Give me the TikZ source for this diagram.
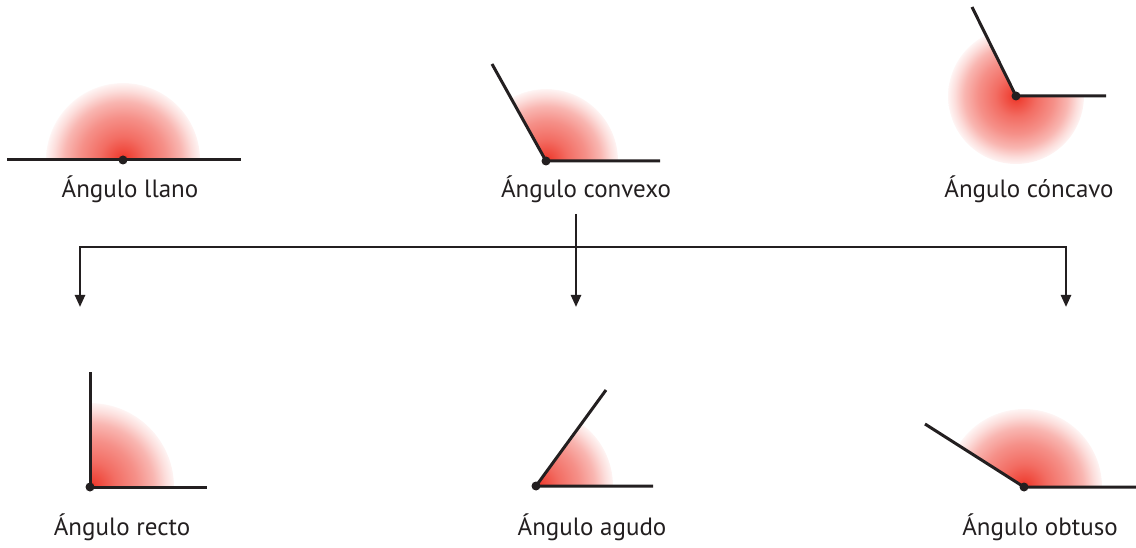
\documentclass[tikz,border=0pt]{standalone}
\usepackage{fontspec}
\setmainfont{PT Sans}
\usetikzlibrary{arrows.meta}
\definecolor{ink}{RGB}{35,31,32}
\definecolor{angred}{RGB}{237,46,32}
\pgfdeclareradialshading{anglefade}{\pgfpoint{0bp}{0bp}}{color(0bp)=(angred); color(2.5bp)=(angred!88!white); color(7.5bp)=(angred!70!white); color(14bp)=(angred!53!white); color(19bp)=(angred!35!white); color(22.5bp)=(angred!16!white); color(25bp)=(angred!5!white); color(25.5bp)=(white); color(100bp)=(white)}

\begin{document}
\begin{tikzpicture}[x=1pt,y=1pt,
		ray/.style={line width=3pt, ink},
		dot/.style={fill=ink, draw=none},
		flow/.style={line width=2.4pt, ink, -{Triangle[width=10pt,length=12pt]}},
		lbl/.style={anchor=base, inner sep=0pt, text=ink, font=\fontsize{25}{30}\selectfont}]
	\useasboundingbox (0,0) rectangle (1136,547);
	% top row
	\coordinate (Vll) at (123,387);
	\coordinate (Vcx) at (546,386);
	\coordinate (Vcc) at (1016,451);
	\begin{scope}
		\clip (Vll) -- ++(0:77) arc[start angle=0, end angle=180, radius=77pt] -- cycle;
		\shade[shading=anglefade] (Vll) circle (77pt);
	\end{scope}
	\begin{scope}
		\clip (Vcx) -- ++(0:72) arc[start angle=0, end angle=119, radius=72pt] -- cycle;
		\shade[shading=anglefade] (Vcx) circle (72pt);
	\end{scope}
	\begin{scope}
		\clip (Vcc) -- ++(116:68) arc[start angle=116, end angle=360, radius=68pt] -- cycle;
		\shade[shading=anglefade] (Vcc) circle (68pt);
	\end{scope}
	\draw[ray] (7,387) -- (241,387);
	\draw[ray] (492,483) -- (Vcx) -- (660,386);
	\draw[ray] (972,540) -- (Vcc) -- (1106,451);
	\fill[dot] (Vll) circle (4.5pt);
	\fill[dot] (Vcx) circle (4.5pt);
	\fill[dot] (Vcc) circle (4.5pt);
	\node[lbl] (llano) at (130,349) {Ángulo llano};
	\node[lbl] (convexo) at (586,349) {Ángulo convexo};
	\node[lbl] (concavo) at (1029,349) {Ángulo cóncavo};
	% arrows
	\coordinate (split) at (576,300);
	\coordinate (tipL) at (80,240);
	\coordinate (tipM) at (576,240);
	\coordinate (tipR) at (1066,240);
	\draw[flow] (576,333) -- (tipM);
	\draw[flow] (split) -| (tipL);
	\draw[flow] (split) -| (tipR);
	% bottom row
	\coordinate (Vre) at (90,60);
	\coordinate (Vag) at (536,61);
	\coordinate (Vob) at (1024,60);
	\begin{scope}
		\clip (Vre) -- ++(0:84) arc[start angle=0, end angle=90, radius=84pt] -- cycle;
		\shade[shading=anglefade] (Vre) circle (84pt);
	\end{scope}
	\begin{scope}
		\clip (Vag) -- ++(0:77) arc[start angle=0, end angle=54, radius=77pt] -- cycle;
		\shade[shading=anglefade] (Vag) circle (77pt);
	\end{scope}
	\begin{scope}
		\clip (Vob) -- ++(0:78) arc[start angle=0, end angle=147.5, radius=78pt] -- cycle;
		\shade[shading=anglefade] (Vob) circle (78pt);
	\end{scope}
	\draw[ray] (90,175) -- (Vre) -- (207,60);
	\draw[ray] (606,157) -- (Vag) -- (653,61);
	\draw[ray] (925,123) -- (Vob) -- (1136,60);
	\fill[dot] (Vre) circle (4.5pt);
	\fill[dot] (Vag) circle (4.5pt);
	\fill[dot] (Vob) circle (4.5pt);
	\node[lbl] (recto) at (122,12) {Ángulo recto};
	\node[lbl] (agudo) at (592,12) {Ángulo agudo};
	\node[lbl] (obtuso) at (1040,12) {Ángulo obtuso};
\end{tikzpicture}
\end{document}
